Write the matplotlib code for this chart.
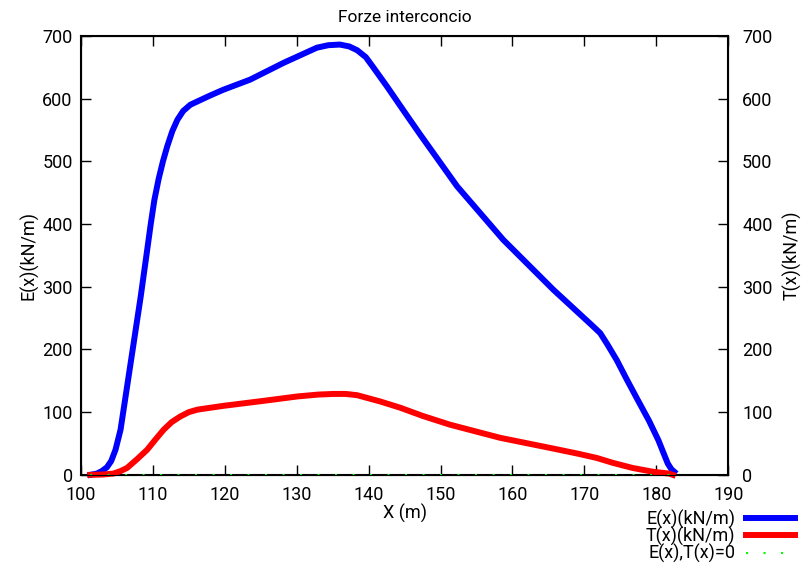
import matplotlib
matplotlib.use('Agg')
from matplotlib import pyplot as plt

plt.rcParams['font.family'] = ['Roboto', 'DejaVu Sans']

# E(x) - forza normale
E_x = [101.3, 102.2, 102.9, 103.6, 104.2, 104.8, 105.5, 106.9, 108.3, 109.1,
       109.7, 110.2, 110.8, 111.4, 112.0, 112.7, 113.4, 114.2, 115.2, 116.5,
       118.0, 119.8, 123.5, 128.2, 130.5, 132.8, 134.4, 136.0, 137.3, 138.4,
       139.6, 140.5, 141.5, 142.5, 144.0, 145.5, 147.2, 152.3, 158.7, 165.7,
       171.0, 172.2, 173.2, 174.5, 175.9, 177.3, 179.0, 180.3, 181.0, 181.6,
       182.1, 182.5]
E = [0, 2, 6, 12, 22, 40, 72, 178, 284, 350,
     400, 438, 472, 500, 524, 548, 566, 580, 590, 597,
     605, 614, 630, 657, 669, 681, 685, 686, 683, 677,
     666, 652, 636, 620, 595, 570, 542, 460, 375, 295,
     239, 226, 208, 183, 152, 122, 86, 55, 35, 18,
     9, 5]

# T(x) - forza tangenziale
T_x = [101.3, 103.0, 104.5, 105.5, 106.4, 107.8, 109.2, 110.4, 111.5, 112.6,
       113.8, 115.0, 116.2, 118.0, 119.8, 125.4, 130.1, 133.0, 135.1, 136.8,
       138.4, 140.0, 141.6, 144.4, 147.5, 151.3, 158.3, 165.2, 169.0, 171.7,
       174.0, 176.7, 179.5, 181.8, 182.3]
T = [0, 0.5, 2, 6, 11, 25, 40, 57, 72, 84,
     93, 100, 104, 107, 110, 118, 125, 128, 129, 129,
     127, 122, 117, 107, 94, 80, 59, 43, 34, 27,
     19, 11, 5, 2, 0]

# linea dello zero
Z_x = [101.3, 182.5]
Z = [0, 0]

x_ticks = [100, 110, 120, 130, 140, 150, 160, 170, 180, 190]
y_ticks = [0, 100, 200, 300, 400, 500, 600, 700]

fig = plt.figure(figsize=(8.1, 5.68), dpi=100)
ax = fig.add_axes([0.1, 0.164, 0.799, 0.773])

l1, = ax.plot(E_x, E, color='#0000ff', lw=4.3, clip_on=False, zorder=3,
              solid_joinstyle='round')
l2, = ax.plot(T_x, T, color='#ff0000', lw=4.3, clip_on=False, zorder=3,
              solid_joinstyle='round')
l3, = ax.plot(Z_x, Z, color='#00ff00', lw=1.5, linestyle=(0, (1, 7.4)),
              clip_on=False, zorder=4)

ax.set_xlim(100, 190)
ax.set_ylim(0, 700)
ax.set_xticks(x_ticks)
ax.set_yticks(y_ticks)
ax.tick_params(direction='in', length=7, width=1, labelsize=13,
               top=True, right=True)
ax.tick_params(axis='y', pad=6)
ax.tick_params(axis='x', pad=8)
for s in ax.spines.values():
    s.set_linewidth(1.5)

ax2 = ax.twinx()
ax2.set_ylim(0, 700)
ax2.set_yticks(y_ticks)
ax2.tick_params(direction='in', length=7, width=1, labelsize=13, pad=10)
ax2.set_ylabel('T(x)(kN/m)', fontsize=13, labelpad=7)

ax.set_title('Forze interconcio', fontsize=12.5, pad=10)
ax.set_xlabel('X (m)', fontsize=13, labelpad=0)
ax.set_ylabel('E(x)(kN/m)', fontsize=13, labelpad=3)

fig.legend([l1, l2, l3], ['E(x)(kN/m)', 'T(x)(kN/m)', 'E(x),T(x)=0'],
           loc='upper right', bbox_to_anchor=(0.981, 0.103),
           frameon=False, markerfirst=False, handlelength=2.7,
           handletextpad=0.6, labelspacing=-0.1, borderpad=0,
           borderaxespad=0, fontsize=13)

fig.savefig('out.png', dpi=100)
